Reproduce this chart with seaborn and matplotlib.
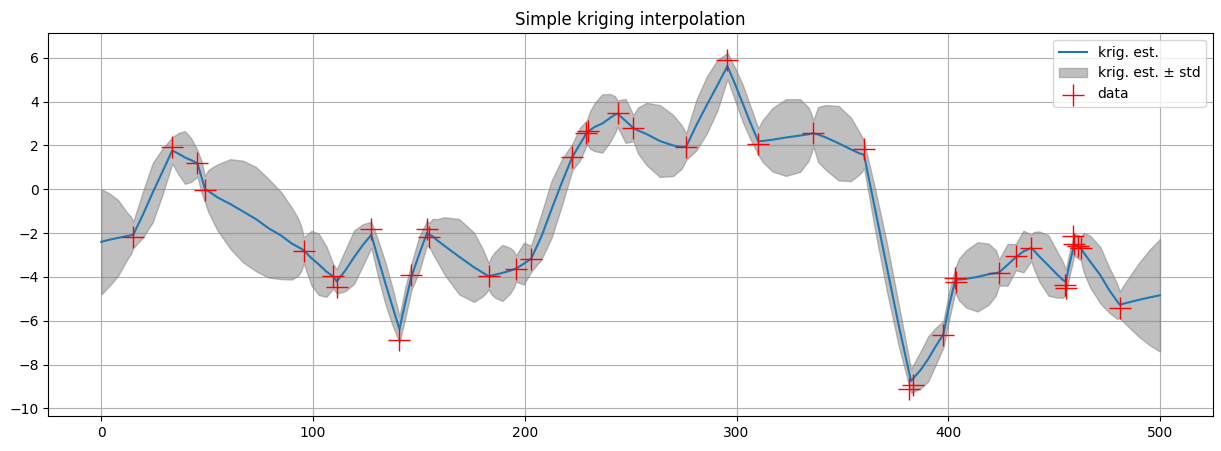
import matplotlib
matplotlib.use("Agg")
import matplotlib.pyplot as plt
import numpy as np
import seaborn as sns

# conditioning data
x_data = [15.1, 33.5, 45.4, 49.0, 95.6, 109.6, 111.2, 127.5, 140.8, 146.5,
          153.8, 155.0, 182.9, 195.9, 203.0, 222.5, 229.1, 229.7, 243.8, 251.3,
          276.2, 295.7, 310.3, 336.3, 360.2, 381.6, 383.2, 397.7, 403.0, 403.6,
          424.0, 431.9, 439.2, 455.3, 455.7, 459.0, 459.6, 461.3, 462.6, 481.0]
y_data = [-2.17, 1.94, 1.20, -0.02, -2.83, -3.95, -4.46, -1.82, -6.90, -3.91,
          -1.82, -2.20, -3.98, -3.66, -3.18, 1.48, 2.55, 2.66, 3.48, 2.79,
          1.92, 5.88, 2.07, 2.56, 1.83, -9.12, -8.92, -6.66, -4.05, -4.25,
          -3.81, -3.07, -2.67, -4.38, -4.50, -2.15, -2.48, -2.60, -2.70, -5.40]

# kriging estimate and its standard deviation, sampled along x
x_est = [0, 4, 8, 12, 14, 15.1, 19.7, 24.3, 28.9, 33.5,
         36.5, 39.5, 42.4, 45.4, 47.2, 49.0, 50.5, 52, 55, 61,
         67, 73, 79, 85, 90, 93, 94.5, 95.6, 99.3, 102.7,
         106.3, 109.6, 111.2, 115.3, 119.4, 123.5, 127.5, 131, 134.2, 137.5,
         140.8, 143.6, 146.5, 150.2, 153.8, 155.0, 156.5, 158.5, 162, 169,
         176, 180, 181.6, 182.9, 184.2, 186, 189.4, 193, 194.7, 195.9,
         199.5, 203.0, 207.9, 212.7, 217.6, 222.5, 226, 229.4, 230.8, 233,
         236.6, 240.2, 242.5, 243.8, 247.6, 251.3, 253.5, 257.5, 263.8, 270,
         274, 275.2, 276.2, 281, 286, 291, 295.7, 299.3, 303, 306.7,
         310.3, 312.3, 317, 323.3, 330, 334, 335.3, 336.3, 338.5, 342,
         348.2, 354, 358, 359.3, 360.2, 365.5, 371, 376.5, 382.4, 387,
         390.5, 394, 397.7, 400.3, 403.3, 405, 408.5, 413.8, 419, 422.5,
         423.3, 424.0, 428, 431.9, 435.5, 439.2, 440.5, 443, 447.3, 451.5,
         454.3, 455.5, 457.3, 459.5, 462.6, 464, 467, 471.8, 476, 479.8,
         481.0, 482.5, 485, 490, 495, 500]
est = [-2.40, -2.30, -2.22, -2.14, -2.10, -2.08, -1.15, -0.15, 0.80, 1.77,
       1.62, 1.45, 1.33, 1.18, 0.60, 0.00, -0.08, -0.18, -0.38, -0.68,
       -1.02, -1.36, -1.78, -2.12, -2.48, -2.64, -2.72, -2.79, -3.15, -3.43,
       -3.76, -3.98, -4.21, -3.70, -3.10, -2.55, -2.08, -3.25, -4.30, -5.35,
       -6.39, -5.17, -3.98, -2.95, -2.00, -2.08, -2.15, -2.32, -2.58, -3.08,
       -3.56, -3.80, -3.90, -3.97, -3.94, -3.90, -3.82, -3.72, -3.66, -3.62,
       -3.40, -3.17, -2.15, -0.90, 0.33, 1.48, 2.05, 2.60, 2.70, 2.84,
       3.00, 3.25, 3.40, 3.45, 3.12, 2.79, 2.68, 2.52, 2.20, 2.00,
       1.93, 1.93, 1.94, 2.92, 3.85, 4.75, 5.62, 4.80, 3.90, 3.00,
       2.18, 2.20, 2.26, 2.36, 2.45, 2.51, 2.54, 2.55, 2.50, 2.37,
       2.10, 1.82, 1.64, 1.60, 1.58, -0.95, -3.55, -6.16, -8.75, -8.24,
       -7.75, -7.18, -6.62, -5.35, -4.15, -4.12, -4.09, -4.00, -3.88, -3.82,
       -3.81, -3.80, -3.45, -3.10, -2.84, -2.68, -2.80, -3.07, -3.48, -3.90,
       -4.15, -4.22, -3.40, -2.53, -2.70, -2.90, -3.30, -3.92, -4.60, -5.12,
       -5.27, -5.23, -5.17, -5.05, -4.94, -4.84]
std = [2.40, 2.10, 1.72, 1.10, 0.85, 0.60, 1.05, 1.35, 1.05, 0.60,
       0.95, 1.20, 1.00, 0.60, 0.72, 0.60, 0.95, 1.15, 1.52, 2.05,
       2.32, 2.38, 2.25, 1.98, 1.64, 1.30, 1.00, 0.60, 1.25, 1.40,
       1.15, 0.55, 0.55, 0.95, 1.22, 0.95, 0.60, 0.85, 0.95, 0.85,
       0.60, 0.70, 0.60, 0.80, 0.55, 0.55, 0.80, 0.95, 1.30, 1.72,
       1.58, 1.10, 0.85, 0.60, 0.85, 1.05, 1.28, 1.05, 0.85, 0.60,
       0.95, 0.60, 1.05, 1.30, 1.05, 0.60, 0.75, 0.55, 0.85, 1.10,
       1.33, 1.10, 0.85, 0.60, 1.00, 0.60, 1.05, 1.42, 1.64, 1.40,
       1.00, 0.80, 0.60, 1.15, 1.30, 1.15, 0.60, 0.75, 0.85, 0.75,
       0.60, 0.95, 1.45, 1.75, 1.66, 1.22, 0.90, 0.60, 1.25, 1.47,
       1.70, 1.45, 0.97, 0.80, 0.60, 0.95, 1.10, 0.95, 0.55, 0.85,
       1.03, 0.85, 0.60, 0.65, 0.55, 0.95, 1.31, 1.58, 1.40, 1.03,
       0.80, 0.60, 0.95, 0.60, 0.95, 0.60, 0.85, 1.14, 1.38, 1.05,
       0.80, 0.55, 0.55, 0.50, 0.55, 0.90, 1.18, 1.29, 1.03, 0.80,
       0.60, 0.80, 1.10, 1.68, 2.17, 2.57]

est_arr = np.array(est)
std_arr = np.array(std)

fig = plt.figure(figsize=(12.21, 4.51), dpi=100)
ax = fig.add_axes([0.0396, 0.0776, 0.9538, 0.8492])

sns.lineplot(x=x_est, y=est, ax=ax, color="C0", linewidth=1.5,
             label="krig. est.")
ax.fill_between(x_est, est_arr - std_arr, est_arr + std_arr,
                color="gray", alpha=0.5, label="krig. est. ± std")
sns.scatterplot(x=x_data, y=y_data, ax=ax, marker="+", s=260,
                color="red", linewidth=1.0, label="data", zorder=3)

ax.set_xlim(-25, 525)
ax.set_ylim(-10.35, 7.13)
ax.set_xticks([0, 100, 200, 300, 400, 500])
ax.set_yticks([-10, -8, -6, -4, -2, 0, 2, 4, 6])
ax.grid(True)
ax.set_axisbelow(True)
ax.set_title("Simple kriging interpolation")
ax.legend(loc="upper right")

fig.savefig("out.png", dpi=100)
